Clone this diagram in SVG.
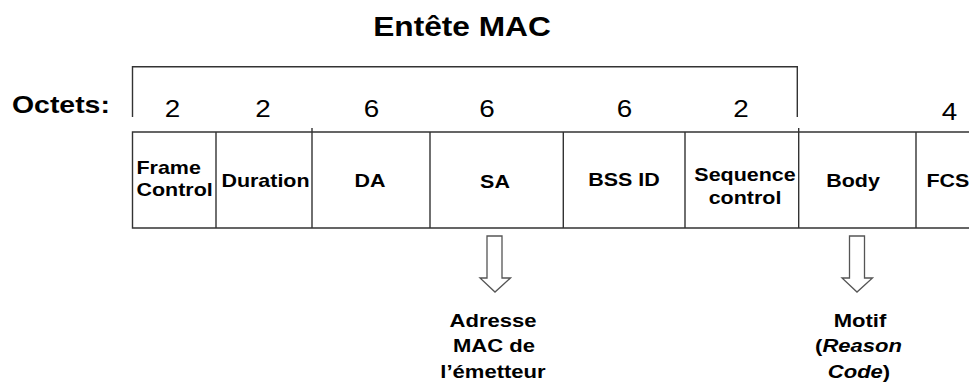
<svg xmlns="http://www.w3.org/2000/svg" width="969" height="382" viewBox="0 0 969 382">
<style>
  text { font-family: "Liberation Sans", Arial, sans-serif; fill: #000; }
  .b { font-weight: bold; }
  .t { font-size: 27.3px; }
  .o { font-size: 24.5px; }
  .n { font-size: 24px; }
  .c { font-size: 18.5px; }
  .a { font-size: 19px; }
  .m { text-anchor: middle; }
  .ln { fill: none; stroke: #333; stroke-width: 1.4; }
  .arr { fill: #fff; stroke: #555; stroke-width: 1.3; stroke-linejoin: miter; }
</style>
<rect width="969" height="382" fill="#fff"/>

<g id="title"><text class="b t m" transform="translate(462 36) scale(1.16 1)">Entête MAC</text></g>

<g id="octets">
  <text class="b o" transform="translate(12 113) scale(1.16 1)">Octets:</text>
  <text class="n m" transform="translate(172.5 117) scale(1.16 1)">2</text>
  <text class="n m" transform="translate(263 117) scale(1.16 1)">2</text>
  <text class="n m" transform="translate(371.5 117) scale(1.16 1)">6</text>
  <text class="n m" transform="translate(487 117) scale(1.16 1)">6</text>
  <text class="n m" transform="translate(624.5 117) scale(1.16 1)">6</text>
  <text class="n m" transform="translate(741 117) scale(1.16 1)">2</text>
  <text class="n m" transform="translate(949.5 120) scale(1.16 1)">4</text>
</g>

<g id="bracket"><path class="ln" d="M132.5 117V66.7H797.3V117"/></g>

<g id="frame">
  <path class="ln" d="M969 132H132.5V228H969"/>
  <path class="ln" d="M312 128V132M798.7 128V132"/>
</g>
<g id="cell-fc">
  <text class="b c" transform="translate(136.5 174) scale(1.16 1)">Frame</text>
  <text class="b c" transform="translate(136.5 196) scale(1.16 1)">Control</text>
  <path class="ln" d="M216 132V228"/>
</g>
<g id="cell-duration">
  <text class="b c m" transform="translate(265.5 187) scale(1.16 1)">Duration</text>
  <path class="ln" d="M312 132V228"/>
</g>
<g id="cell-da">
  <text class="b c m" transform="translate(370 187) scale(1.16 1)">DA</text>
  <path class="ln" d="M430 132V228"/>
</g>
<g id="cell-sa">
  <text class="b c m" transform="translate(495 188) scale(1.16 1)">SA</text>
  <path class="ln" d="M563.3 132V228"/>
</g>
<g id="cell-bss">
  <text class="b c m" transform="translate(624 186) scale(1.16 1)">BSS ID</text>
  <path class="ln" d="M685 132V228"/>
</g>
<g id="cell-seq">
  <text class="b c m" transform="translate(745 181) scale(1.16 1)">Sequence</text>
  <text class="b c m" transform="translate(745 204) scale(1.16 1)">control</text>
  <path class="ln" d="M798.7 132V228"/>
</g>
<g id="cell-body">
  <text class="b c m" transform="translate(853 187) scale(1.16 1)">Body</text>
  <path class="ln" d="M916 132V228"/>
</g>
<g id="cell-fcs">
  <text class="b c" transform="translate(926.5 187) scale(1.16 1)">FCS</text>
</g>

<g id="connectors">
  <path class="arr" d="M487 236H502V278H510.5L495 292L480 278H487Z"/>
  <path class="arr" d="M849.5 236H864.5V278H872.5L857 292L842 278H849.5Z"/>
</g>

<g id="note-sa">
  <text class="b a m" transform="translate(493 327) scale(1.16 1)">Adresse</text>
  <text class="b a m" transform="translate(494 352) scale(1.16 1)">MAC de</text>
  <text class="b a m" transform="translate(493 378) scale(1.16 1)">l’émetteur</text>
</g>
<g id="note-body">
  <text class="b a m" transform="translate(860 327) scale(1.16 1)">Motif</text>
  <text class="b a m" transform="translate(858.5 352) scale(1.16 1)">(<tspan font-style="italic">Reason</tspan></text>
  <text class="b a m" transform="translate(859 378) scale(1.16 1)"><tspan font-style="italic">Code</tspan>)</text>
</g>
</svg>
